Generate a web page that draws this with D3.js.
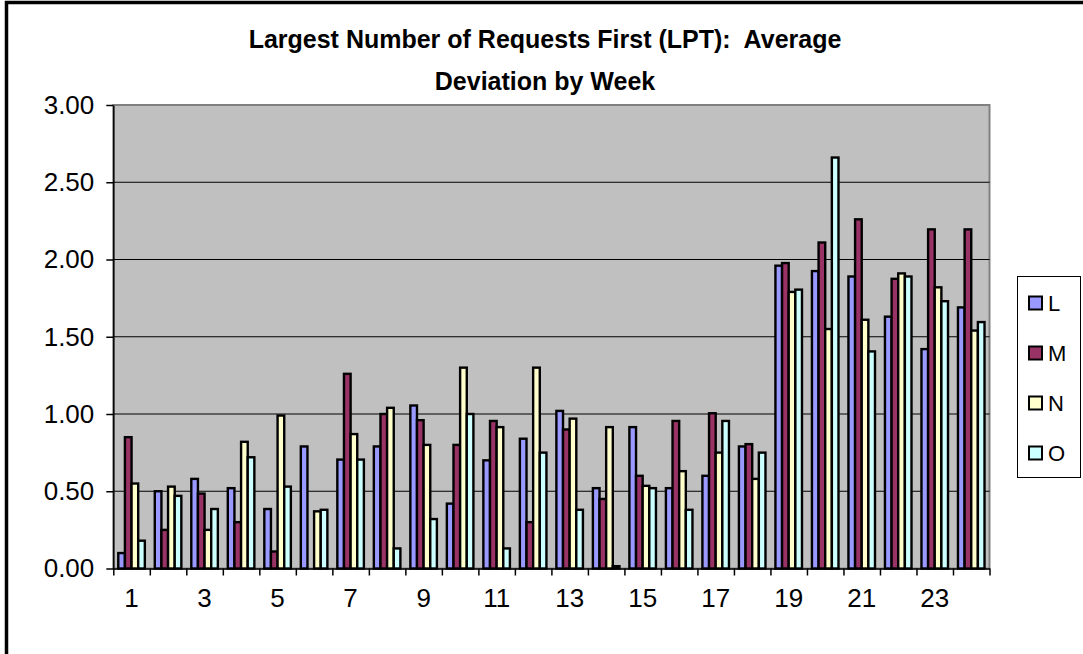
<!DOCTYPE html>
<html>
<head>
<meta charset="utf-8">
<script src="https://cdn.jsdelivr.net/npm/d3@7"></script>
<style>
  body { margin: 0; background: #fff; }
  svg { display: block; font-family: Arial, "Liberation Sans", sans-serif; }
</style>
</head>
<body>
<div id="chart"></div>
<script>
// data
const weeks = d3.range(1, 25);
const seriesNames = ["L", "M", "N", "O"];
const seriesColors = ["#9999FF", "#993366", "#FFFFCC", "#CCFFFF"];
const valuesL = [0.10, 0.50, 0.58, 0.52, 0.385, 0.79, 0.705, 0.79, 1.055, 0.42, 0.70, 0.84, 1.02, 0.52, 0.915, 0.52, 0.60, 0.79, 1.96, 1.925, 1.89, 1.63, 1.42, 1.69];
const valuesM = [0.85, 0.25, 0.485, 0.30, 0.11, 0, 1.26, 1.00, 0.96, 0.80, 0.955, 0.30, 0.90, 0.45, 0.60, 0.955, 1.005, 0.805, 1.977, 2.11, 2.26, 1.875, 2.195, 2.195];
const valuesN = [0.55, 0.53, 0.25, 0.82, 0.99, 0.37, 0.87, 1.04, 0.80, 1.30, 0.915, 1.30, 0.97, 0.915, 0.535, 0.63, 0.75, 0.58, 1.79, 1.55, 1.61, 1.91, 1.82, 1.54];
const valuesO = [0.18, 0.47, 0.385, 0.72, 0.53, 0.38, 0.705, 0.13, 0.32, 1.00, 0.13, 0.75, 0.38, 0.015, 0.52, 0.38, 0.955, 0.75, 1.805, 2.66, 1.405, 1.89, 1.73, 1.595];
const yTicks = [0, 0.5, 1, 1.5, 2, 2.5, 3];
const titleLines = ["Largest Number of Requests First (LPT):  Average", "Deviation by Week"];

const allSeries = [valuesL, valuesM, valuesN, valuesO];

const width = 1083, height = 654;
const plot = { left: 113.3, right: 989.5, top: 105, bottom: 568.5 };

const svg = d3.select("#chart").append("svg")
    .attr("width", width)
    .attr("height", height);

// outer frame
svg.append("rect")
    .attr("x", 6.5).attr("y", 2.5)
    .attr("width", width + 10).attr("height", height + 10)
    .attr("fill", "#fff")
    .attr("stroke", "#000")
    .attr("stroke-width", 3.5);

// title
svg.append("g")
    .selectAll("text")
    .data(titleLines)
    .enter().append("text")
    .attr("x", 545)
    .attr("y", (d, i) => 48 + i * 42)
    .attr("text-anchor", "middle")
    .style("white-space", "pre")
    .style("font-weight", "bold")
    .style("font-size", "25px")
    .text(d => d);

// scales
const x0 = d3.scaleBand().domain(weeks).range([plot.left, plot.right]).padding(0);
const barW = x0.bandwidth() / 5.5;   // gap width 150%
const x1 = d3.scaleBand().domain(seriesNames).range([0.75 * barW, 4.75 * barW]).padding(0);
const xEdge = d3.scaleLinear().domain([0, weeks.length]).range([plot.left, plot.right]);
const y = d3.scaleLinear().domain([0, 3]).range([plot.bottom, plot.top]);

// plot area
svg.append("rect")
    .attr("x", plot.left).attr("y", plot.top)
    .attr("width", plot.right - plot.left).attr("height", plot.bottom - plot.top)
    .attr("fill", "#C0C0C0")
    .attr("stroke", "#808080")
    .attr("stroke-width", 2);

// gridlines
svg.append("g")
    .selectAll("line")
    .data(yTicks.filter(d => d > 0 && d < 3))
    .enter().append("line")
    .attr("x1", plot.left).attr("x2", plot.right)
    .attr("y1", d => y(d)).attr("y2", d => y(d))
    .attr("stroke", "#000")
    .attr("stroke-width", 1);

// bars
const groups = svg.append("g")
    .selectAll("g")
    .data(seriesNames)
    .enter().append("g")
    .attr("fill", (d, i) => seriesColors[i]);

groups.selectAll("rect")
    .data((s, i) => allSeries[i].map((v, j) => ({ week: weeks[j], value: v, s })))
    .enter().append("rect")
    .filter(d => d.value > 0)
    .attr("x", d => x0(d.week) + x1(d.s))
    .attr("width", x1.bandwidth())
    .attr("y", d => y(d.value))
    .attr("height", d => y(0) - y(d.value))
    .attr("stroke", "#000")
    .attr("stroke-width", 2.4);

// y axis
const yAxis = d3.axisLeft(y)
    .tickValues(yTicks)
    .tickFormat(d3.format(".2f"))
    .tickSizeInner(7).tickSizeOuter(0)
    .tickPadding(12);
const yg = svg.append("g")
    .attr("transform", `translate(${plot.left},0)`)
    .call(yAxis);
yg.selectAll("text").style("font-size", "26px").attr("fill", "#000");
yg.selectAll("line, path").attr("stroke", "#000").attr("stroke-width", 1.5);

// x axis: tick marks at category boundaries
const xTickAxis = d3.axisBottom(xEdge)
    .tickValues(d3.range(0, weeks.length + 1))
    .tickFormat("")
    .tickSizeInner(7).tickSizeOuter(0);
const xg = svg.append("g")
    .attr("transform", `translate(0,${plot.bottom})`)
    .call(xTickAxis);
xg.selectAll("line, path").attr("stroke", "#000").attr("stroke-width", 1.5);

// x labels on odd weeks
const xLabelAxis = d3.axisBottom(x0)
    .tickValues(weeks.filter(w => w % 2 === 1))
    .tickSize(0)
    .tickPadding(20);
const xl = svg.append("g")
    .attr("transform", `translate(0,${plot.bottom})`)
    .call(xLabelAxis);
xl.select(".domain").remove();
xl.selectAll("text").style("font-size", "26px").attr("fill", "#000");

// legend
const legend = svg.append("g");
legend.append("rect")
    .attr("x", 1017.5).attr("y", 276.5)
    .attr("width", 63).attr("height", 201)
    .attr("fill", "#fff")
    .attr("stroke", "#000")
    .attr("stroke-width", 1);

const items = legend.selectAll("g.item")
    .data(seriesNames)
    .enter().append("g")
    .attr("class", "item")
    .attr("transform", (d, i) => `translate(1029,${303 + i * 50})`);

items.append("rect")
    .attr("x", 0).attr("y", -6.5)
    .attr("width", 13).attr("height", 13)
    .attr("fill", (d, i) => seriesColors[i])
    .attr("stroke", "#000")
    .attr("stroke-width", 2);

items.append("text")
    .attr("x", 19)
    .attr("y", 0)
    .attr("dy", "0.36em")
    .style("font-size", "22px")
    .text(d => d);
</script>
</body>
</html>
